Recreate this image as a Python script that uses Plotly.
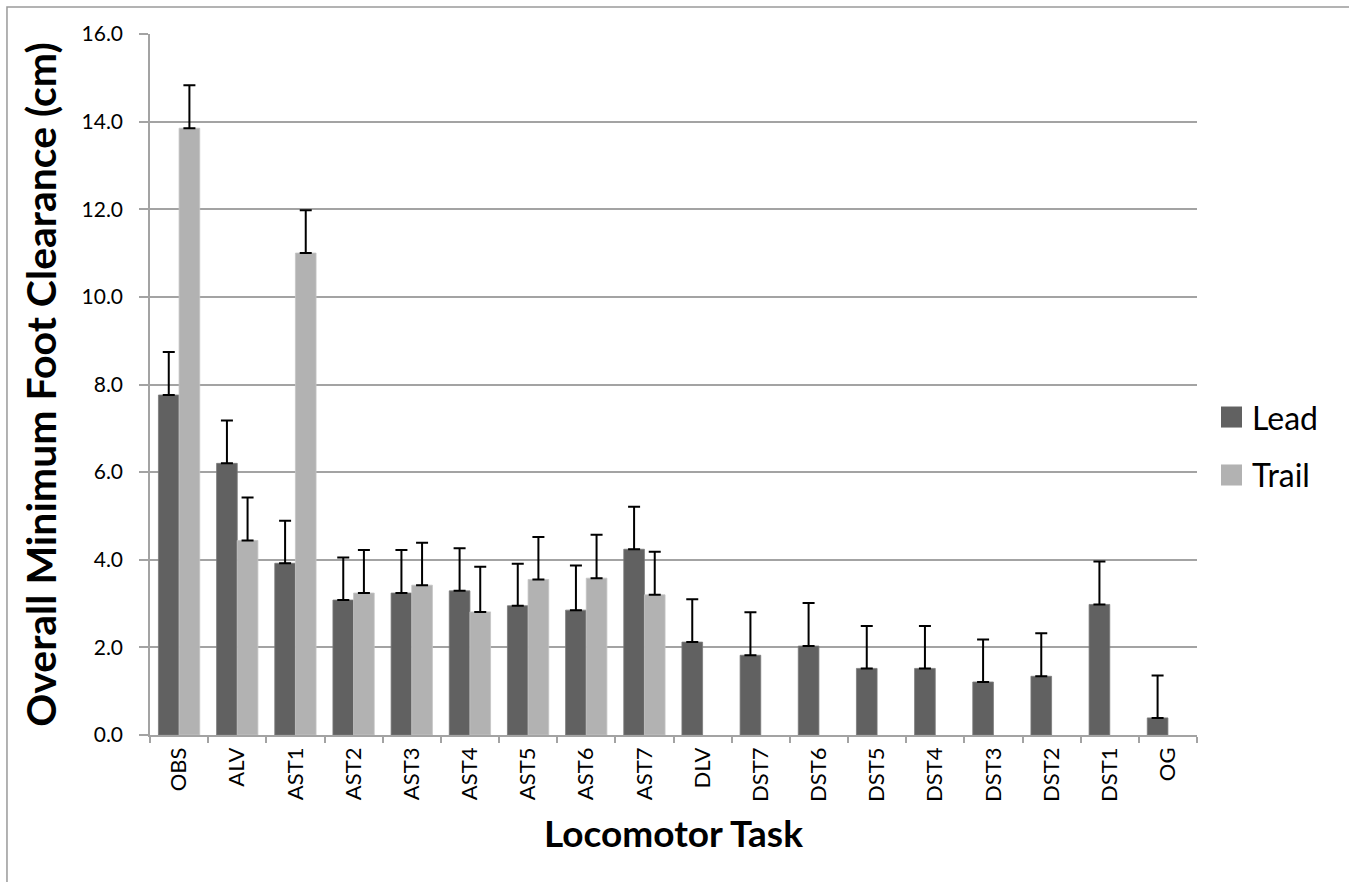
import plotly.graph_objects as go

categories = ["OBS", "ALV", "AST1", "AST2", "AST3", "AST4", "AST5", "AST6", "AST7",
              "DLV", "DST7", "DST6", "DST5", "DST4", "DST3", "DST2", "DST1", "OG"]
lead = [7.76, 6.20, 3.92, 3.08, 3.24, 3.29, 2.95, 2.85, 4.24,
        2.12, 1.82, 2.03, 1.52, 1.52, 1.21, 1.34, 2.98, 0.39]
lead_err = [0.98, 0.98, 0.97, 0.97, 0.98, 0.97, 0.96, 1.02, 0.97,
            0.98, 0.98, 0.98, 0.97, 0.97, 0.97, 0.98, 0.98, 0.97]
trail = [13.85, 4.44, 11.00, 3.24, 3.42, 2.81, 3.55, 3.58, 3.20,
         None, None, None, None, None, None, None, None, None]
trail_err = [0.98, 0.98, 0.98, 0.98, 0.97, 1.03, 0.97, 0.99, 0.98,
             0, 0, 0, 0, 0, 0, 0, 0, 0]
y_ticks = [0, 2, 4, 6, 8, 10, 12, 14, 16]
series_names = ["Lead", "Trail"]
series_colors = ["#616161", "#b2b2b2"]

FONT = "Lato, 'Open Sans', sans-serif"
GRID = "#a3a3a3"

fig = go.Figure()
fig.add_trace(go.Bar(
    x=categories, y=lead, name=series_names[0], showlegend=False,
    marker=dict(color=series_colors[0], line=dict(color="#7a7a7a", width=0.8)),
    error_y=dict(type="data", array=lead_err, arrayminus=[0] * len(lead),
                 symmetric=False, color="black", thickness=2, width=6),
))
fig.add_trace(go.Bar(
    x=categories, y=trail, name=series_names[1], showlegend=False,
    marker=dict(color=series_colors[1], line=dict(color="#c4c4c4", width=0.8)),
    error_y=dict(type="data", array=trail_err, arrayminus=[0] * len(trail),
                 symmetric=False, color="black", thickness=2, width=6),
))

# manual legend (paper coordinates)
shapes = [dict(type="rect", xref="paper", yref="paper",
               x0=-0.1366, x1=1.1624, y0=-0.255, y1=1.0385,
               line=dict(color="#9a9a9a", width=1.5), layer="below")]
annotations = []
leg_y = [0.4536, 0.3709]
for name, color, yc in zip(series_names, series_colors, leg_y):
    shapes.append(dict(type="rect", xref="paper", yref="paper",
                       x0=1.0229, x1=1.0430, y0=yc - 0.0150, y1=yc + 0.0150,
                       fillcolor=color, line=dict(width=0)))
    annotations.append(dict(text=name, xref="paper", yref="paper",
                            x=1.0506, y=yc, xanchor="left", yanchor="middle",
                            showarrow=False, font=dict(size=32, family=FONT, color="black")))

fig.update_layout(
    width=1349, height=882,
    paper_bgcolor="white", plot_bgcolor="white",
    margin=dict(l=150, r=152, t=34, b=147),
    barmode="group", bargap=0.29, bargroupgap=0,
    font=dict(family=FONT, color="black"),
    showlegend=False,
    shapes=shapes, annotations=annotations,
)
fig.update_xaxes(
    type="category", tickson="boundaries", ticks="outside", ticklen=6,
    tickcolor=GRID, tickwidth=1.5, tickangle=-90,
    tickfont=dict(size=22, family=FONT), ticklabelstandoff=2,
    showline=True, linecolor=GRID, linewidth=1.5, showgrid=False,
    title=dict(text="<b>Locomotor Task</b>", font=dict(size=37, family=FONT), standoff=20),
)
fig.update_yaxes(
    range=[0, 16], tickvals=y_ticks, tickformat=".1f",
    ticks="outside", ticklen=9, tickcolor=GRID, tickwidth=1.5,
    tickfont=dict(size=21, family=FONT), ticklabelstandoff=12,
    showgrid=True, gridcolor=GRID, gridwidth=1.5,
    showline=True, linecolor=GRID, linewidth=1.5, zeroline=False,
    title=dict(text="<b>Overall Minimum Foot Clearance (cm)</b>",
               font=dict(size=41, family=FONT), standoff=12),
)

fig.write_html("out.html")
